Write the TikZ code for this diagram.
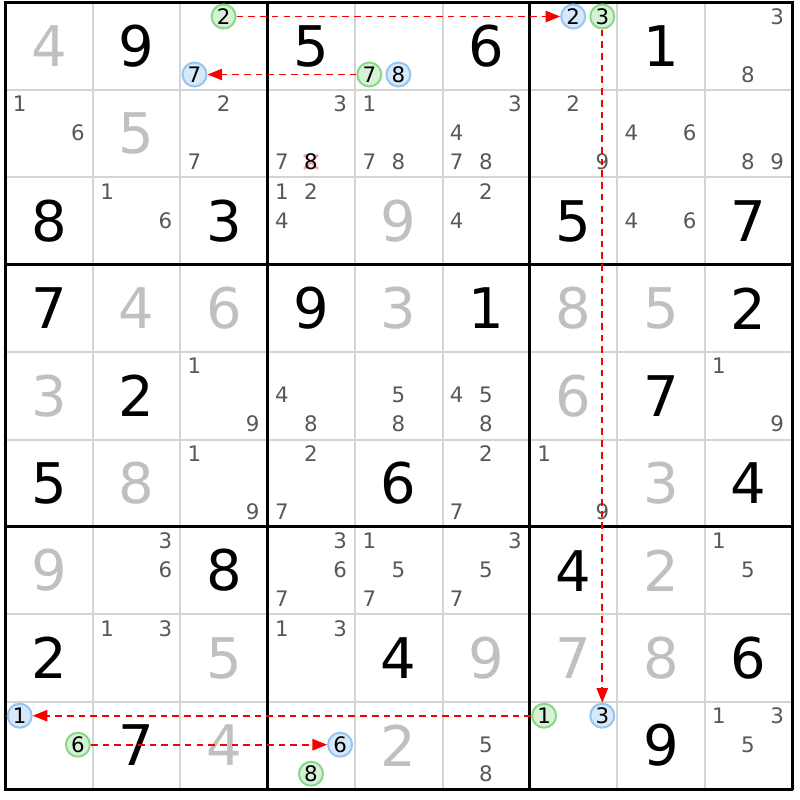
\documentclass[tikz,border=0pt]{standalone}
\usepackage{fontspec}
\setmainfont{DejaVu Sans}
\usetikzlibrary{arrows.meta}
\definecolor{gridthin}{HTML}{D4D4D4}
\definecolor{solved}{HTML}{C0C0C0}
\definecolor{candc}{HTML}{585858}
\definecolor{gfill}{HTML}{D6F2D6}
\definecolor{gline}{HTML}{88D888}
\definecolor{bfill}{HTML}{D6E8FA}
\definecolor{bline}{HTML}{96C5F2}
\definecolor{linkred}{HTML}{F80000}
\definecolor{xpink}{HTML}{F4A0A8}
\tikzset{
  given/.style={font=\fontsize{42}{42}\selectfont, text=black, inner sep=0pt},
  solvedd/.style={font=\fontsize{42}{42}\selectfont, text=solved, inner sep=0pt},
  cand/.style={font=\fontsize{16}{16}\selectfont, text=candc, inner sep=0pt},
  gc/.style={circle, draw=gline, fill=gfill, line width=1.5pt, minimum size=18pt, inner sep=0pt, font=\fontsize{16}{16}\selectfont},
  bc/.style={circle, draw=bline, fill=bfill, line width=1.5pt, minimum size=18pt, inner sep=0pt, font=\fontsize{16}{16}\selectfont},
  link/.style={draw=linkred, line width=1.3pt, dash pattern=on 5pt off 3.8pt, -{Triangle[length=11pt,width=8.5pt]}},
  thin/.style={draw=gridthin, line width=1.5pt},
  thick/.style={draw=black, line width=2.3pt},
}
\newcommand\digit[4]{\node[#4] (d#1#2) at ({5.5+(#2-0.5)*87.4},{2.5+(#1-0.5)*87.4}) {#3};}
\newcommand\cands[3]{%
  \foreach \dd in {#3}{%
    \pgfmathsetmacro\px{5.5+(#2-1)*87.4+14.2+mod(\dd-1,3)*29.1}%
    \pgfmathsetmacro\py{2.5+(#1-1)*87.4+14.0+floor((\dd-1)/3)*29.0}%
    \node[cand] (k#1#2\dd) at (\px,\py) {\dd};}}
\newcommand\ccand[5]{%
  \pgfmathsetmacro\px{5.5+(#2-1)*87.4+14.2+mod(#3-1,3)*29.1}%
  \pgfmathsetmacro\py{2.5+(#1-1)*87.4+14.0+floor((#3-1)/3)*29.0}%
  \node[#4] (#5) at (\px,\py) {#3};}
\begin{document}
\begin{tikzpicture}[x=0.75pt,y=-0.75pt]
\useasboundingbox (0,0) rectangle (800,800);
\fill[white] (0,0) rectangle (800,800);
% thin grid
\foreach \i in {1,2,4,5,7,8}{
  \draw[thin] ({5.5+\i*87.4},2.5) -- ({5.5+\i*87.4},789.1);
  \draw[thin] (5.5,{2.5+\i*87.4}) -- (792.1,{2.5+\i*87.4});
}
\foreach \i in {0,3,6,9}{
  \draw[thick] ({5.5+\i*87.4},1.35) -- ({5.5+\i*87.4},790.25);
  \draw[thick] (4.35,{2.5+\i*87.4}) -- (793.25,{2.5+\i*87.4});
}
% row 1
\digit{1}{1}{4}{solvedd}\digit{1}{2}{9}{given}\digit{1}{4}{5}{given}\digit{1}{6}{6}{given}\digit{1}{8}{1}{given}
% row 2
\digit{2}{2}{5}{solvedd}
% row 3
\digit{3}{1}{8}{given}\digit{3}{3}{3}{given}\digit{3}{5}{9}{solvedd}\digit{3}{7}{5}{given}\digit{3}{9}{7}{given}
% row 4
\digit{4}{1}{7}{given}\digit{4}{2}{4}{solvedd}\digit{4}{3}{6}{solvedd}\digit{4}{4}{9}{given}\digit{4}{5}{3}{solvedd}
\digit{4}{6}{1}{given}\digit{4}{7}{8}{solvedd}\digit{4}{8}{5}{solvedd}\digit{4}{9}{2}{given}
% row 5
\digit{5}{1}{3}{solvedd}\digit{5}{2}{2}{given}\digit{5}{7}{6}{solvedd}\digit{5}{8}{7}{given}
% row 6
\digit{6}{1}{5}{given}\digit{6}{2}{8}{solvedd}\digit{6}{5}{6}{given}\digit{6}{8}{3}{solvedd}\digit{6}{9}{4}{given}
% row 7
\digit{7}{1}{9}{solvedd}\digit{7}{3}{8}{given}\digit{7}{7}{4}{given}\digit{7}{8}{2}{solvedd}
% row 8
\digit{8}{1}{2}{given}\digit{8}{3}{5}{solvedd}\digit{8}{5}{4}{given}\digit{8}{6}{9}{solvedd}\digit{8}{7}{7}{solvedd}\digit{8}{8}{8}{solvedd}\digit{8}{9}{6}{given}
% row 9
\digit{9}{2}{7}{given}\digit{9}{3}{4}{solvedd}\digit{9}{5}{2}{solvedd}\digit{9}{8}{9}{given}
% candidates
\cands{1}{9}{3,8}
\cands{2}{1}{1,6}\cands{2}{3}{2,7}\cands{2}{4}{3,7}\cands{2}{5}{1,7,8}\cands{2}{6}{3,4,7,8}\cands{2}{7}{2,9}\cands{2}{8}{4,6}\cands{2}{9}{8,9}
\cands{3}{2}{1,6}\cands{3}{4}{1,2,4}\cands{3}{6}{2,4}\cands{3}{8}{4,6}
\cands{5}{3}{1,9}\cands{5}{4}{4,8}\cands{5}{5}{5,8}\cands{5}{6}{4,5,8}\cands{5}{9}{1,9}
\cands{6}{3}{1,9}\cands{6}{4}{2,7}\cands{6}{6}{2,7}\cands{6}{7}{1,9}
\cands{7}{2}{3,6}\cands{7}{4}{3,6,7}\cands{7}{5}{1,5,7}\cands{7}{6}{3,5,7}\cands{7}{9}{1,5}
\cands{8}{2}{1,3}\cands{8}{4}{1,3}
\cands{9}{6}{5,8}\cands{9}{9}{1,3,5}
% crossed-out candidate
\coordinate (xc) at ({5.5+3*87.4+14.2+29.1},{2.5+87.4+14.0+58.0});
\draw[xpink, line width=1.8pt] ([shift={(-7,-7)}]xc) -- ([shift={(7,7)}]xc) ([shift={(-7,7)}]xc) -- ([shift={(7,-7)}]xc);
\node[cand, text=black] (x248) at (xc) {8};
% circled candidates
\ccand{1}{3}{2}{gc}{g132}
\ccand{1}{3}{7}{bc}{b137}
\ccand{1}{5}{7}{gc}{g157}
\ccand{1}{5}{8}{bc}{b158}
\ccand{1}{7}{2}{bc}{b172}
\ccand{1}{7}{3}{gc}{g173}
\ccand{9}{1}{1}{bc}{b911}
\ccand{9}{1}{6}{gc}{g916}
\ccand{9}{4}{6}{bc}{b946}
\ccand{9}{4}{8}{gc}{g948}
\ccand{9}{7}{1}{gc}{g971}
\ccand{9}{7}{3}{bc}{b973}
% links
\draw[link] (g132) -- (b172);
\draw[link] (g157) -- (b137);
\draw[link] (g173) -- (b973);
\draw[link] (g971) -- (b911);
\draw[link] (g916) -- (b946);
\end{tikzpicture}
\end{document}
